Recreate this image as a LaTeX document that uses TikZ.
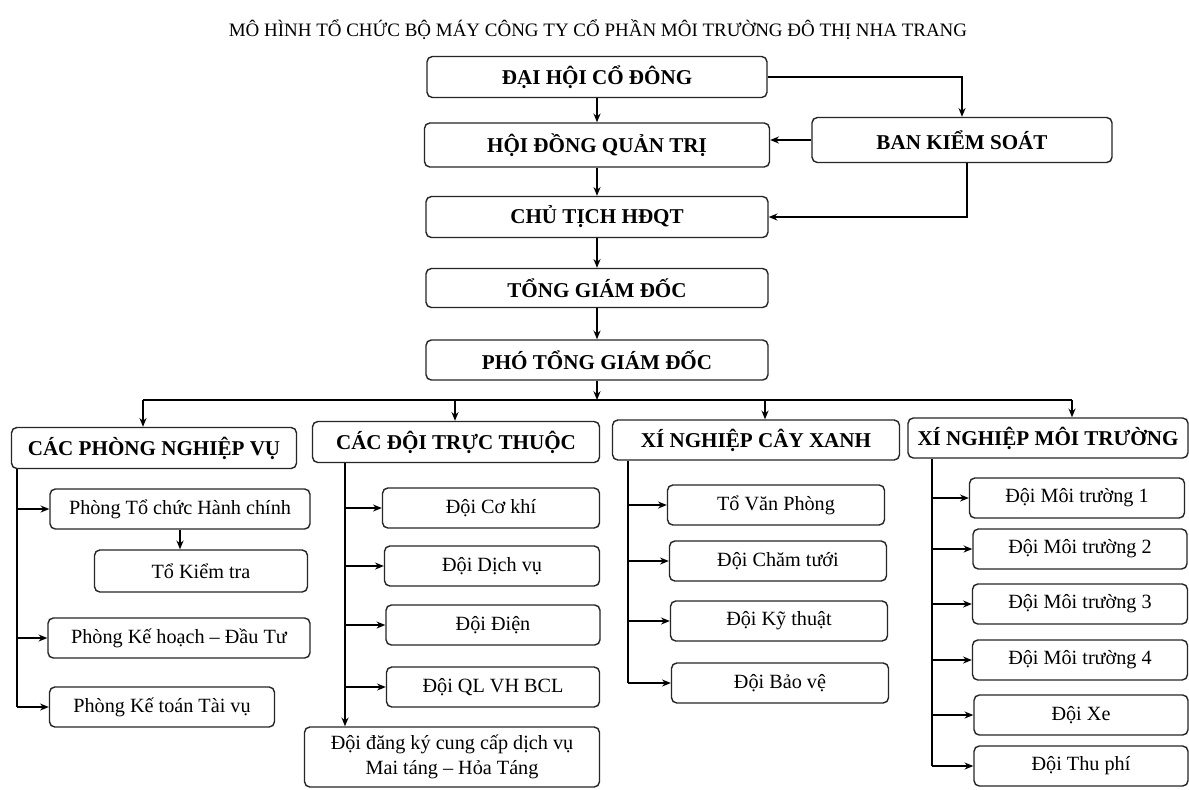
\documentclass[tikz,border=0pt]{standalone}
\usepackage{fontspec}
\setmainfont{Liberation Serif}
\usetikzlibrary{arrows.meta}
\tikzset{
  box/.style={draw=black!85, line width=0.8pt, rounded corners=3pt, inner sep=0pt,
    align=center, font=\fontsize{11.5}{14}\selectfont},
  topbox/.style={box, font=\bfseries\fontsize{12}{14}\selectfont},
  link/.style={line width=0.8pt, -{Stealth[length=5pt,width=4pt]}},
  trunk/.style={line width=0.8pt},
}
\begin{document}
\begin{tikzpicture}[x=0.02cm, y=-0.02cm]
      \useasboundingbox[fill=white] (0,0) rectangle (1189,789);
      \draw
        (598,30) node[font=\fontsize{10.8}{12}\selectfont] (title) {MÔ HÌNH TỔ CHỨC BỘ MÁY CÔNG TY CỔ PHẦN MÔI TRƯỜNG ĐÔ THỊ NHA TRANG}
        (597,77) node[topbox, minimum width=6.8cm, minimum height=0.82cm] (dhcd) {ĐẠI HỘI CỔ ĐÔNG}
        (597,145) node[topbox, minimum width=6.9cm, minimum height=0.88cm] (hdqt) {HỘI ĐỒNG QUẢN TRỊ}
        (962,140) node[topbox, minimum width=6.0cm, minimum height=0.9cm] (bks) {BAN KIỂM SOÁT}
        (597,217) node[topbox, minimum width=6.84cm, minimum height=0.82cm] (ct) {CHỦ TỊCH HĐQT}
        (597,288) node[topbox, minimum width=6.84cm, minimum height=0.78cm] (tgd) {TỔNG GIÁM ĐỐC}
        (597,360) node[topbox, minimum width=6.84cm, minimum height=0.8cm] (ptgd) {PHÓ TỔNG GIÁM ĐỐC};
      % cac khoi
      \draw
        (154,448) node[topbox, minimum width=5.7cm, minimum height=0.82cm] (cpnv) {CÁC PHÒNG NGHIỆP VỤ}
        (456,442) node[topbox, minimum width=5.74cm, minimum height=0.82cm] (cdtt) {CÁC ĐỘI TRỰC THUỘC}
        (756,440) node[topbox, minimum width=5.74cm, minimum height=0.8cm] (xncx) {XÍ NGHIỆP CÂY XANH}
        (1048,438) node[topbox, minimum width=5.6cm, minimum height=0.8cm] (xnmt) {XÍ NGHIỆP MÔI TRƯỜNG};
      % phong nghiep vu
      \draw
        (180,509) node[box, minimum width=5.2cm, minimum height=0.8cm] (ptchc) {Phòng Tổ chức Hành chính}
        (201,571) node[box, minimum width=4.26cm, minimum height=0.84cm] (tkt) {Tổ Kiểm tra}
        (179,638) node[box, minimum width=5.24cm, minimum height=0.8cm] (pkh) {Phòng Kế hoạch – Đầu Tư}
        (162,707) node[box, minimum width=4.5cm, minimum height=0.8cm] (pkt) {Phòng Kế toán Tài vụ};
      % doi truc thuoc
      \draw
        (491,508) node[box, minimum width=4.34cm, minimum height=0.8cm] (dck) {Đội Cơ khí}
        (492,566) node[box, minimum width=4.3cm, minimum height=0.8cm] (ddv) {Đội Dịch vụ}
        (493,625) node[box, minimum width=4.28cm, minimum height=0.8cm] (ddien) {Đội Điện}
        (493,687) node[box, minimum width=4.26cm, minimum height=0.8cm] (dql) {Đội QL VH BCL}
        (452,757) node[box, minimum width=5.9cm, minimum height=1.2cm] (ddk) {Đội đăng ký cung cấp dịch vụ\\Mai táng – Hỏa Táng};
      % cay xanh
      \draw
        (776,505) node[box, minimum width=4.34cm, minimum height=0.8cm] (tvp) {Tổ Văn Phòng}
        (778,561) node[box, minimum width=4.34cm, minimum height=0.8cm] (dct) {Đội Chăm tưới}
        (779,621) node[box, minimum width=4.34cm, minimum height=0.8cm] (dkt) {Đội Kỹ thuật}
        (780,683) node[box, minimum width=4.34cm, minimum height=0.8cm] (dbv) {Đội Bảo vệ};
      % moi truong
      \draw
        (1077,498) node[box, minimum width=4.3cm, minimum height=0.8cm] (dmt1) {Đội Môi trường 1}
        (1080,549) node[box, minimum width=4.28cm, minimum height=0.8cm] (dmt2) {Đội Môi trường 2}
        (1080,604) node[box, minimum width=4.3cm, minimum height=0.8cm] (dmt3) {Đội Môi trường 3}
        (1080,660) node[box, minimum width=4.3cm, minimum height=0.8cm] (dmt4) {Đội Môi trường 4}
        (1081,715) node[box, minimum width=4.28cm, minimum height=0.8cm] (dxe) {Đội Xe}
        (1081,766) node[box, minimum width=4.28cm, minimum height=0.8cm] (dtp) {Đội Thu phí};
      \coordinate (b1) at (143,400);
      \coordinate (b2) at (455,400);
      \coordinate (b3) at (765,400);
      \coordinate (b4) at (1072,400);
      \coordinate (t1) at (17,0);
      \coordinate (t2) at (345,0);
      \coordinate (t3) at (628,0);
      \coordinate (t4) at (932,0);
      \begin{scope}[link]
        \draw (dhcd) to (hdqt);
        \draw (dhcd.east) -| (bks.north);
        \draw (bks.west) -- (bks.west -| hdqt.east);
        \draw ([xshift=0.1cm]bks.south) |- (ct.east);
        \draw (hdqt) to (ct);
        \draw (ct) to (tgd);
        \draw (tgd) to (ptgd);
        \draw (ptgd.south) -- (ptgd.south |- b1);
        \draw (b1) -- (b1 |- cpnv.north);
        \draw (b2) -- (b2 |- cdtt.north);
        \draw (b3) -- (b3 |- xncx.north);
        \draw (b4) -- (b4 |- xnmt.north);
        \draw (ptchc) to (tkt.north -| ptchc);
        \draw (t1 |- ptchc.west) -- (ptchc.west);
        \draw (t1 |- pkh.west) -- (pkh.west);
        \draw (t1 |- pkt.west) -- (pkt.west);
        \draw (t2 |- dck.west) -- (dck.west);
        \draw (t2 |- ddv.west) -- (ddv.west);
        \draw (t2 |- ddien.west) -- (ddien.west);
        \draw (t2 |- dql.west) -- (dql.west);
        \draw (t2 |- cdtt.south) -- (t2 |- ddk.north);
        \draw (t3 |- tvp.west) -- (tvp.west);
        \draw (t3 |- dct.west) -- (dct.west);
        \draw (t3 |- dkt.west) -- (dkt.west);
        \draw (t3 |- dbv.west) -- (dbv.west);
        \draw (t4 |- dmt1.west) -- (dmt1.west);
        \draw (t4 |- dmt2.west) -- (dmt2.west);
        \draw (t4 |- dmt3.west) -- (dmt3.west);
        \draw (t4 |- dmt4.west) -- (dmt4.west);
        \draw (t4 |- dxe.west) -- (dxe.west);
        \draw (t4 |- dtp.west) -- (dtp.west);
      \end{scope}
      \begin{scope}[trunk]
        \draw (b1) -- (b4);
        \draw (t1 |- cpnv.south) -- (t1 |- pkt.west);
        \draw (t3 |- xncx.south) -- (t3 |- dbv.west);
        \draw (t4 |- xnmt.south) -- (t4 |- dtp.west);
      \end{scope}
    \end{tikzpicture}
\end{document}
